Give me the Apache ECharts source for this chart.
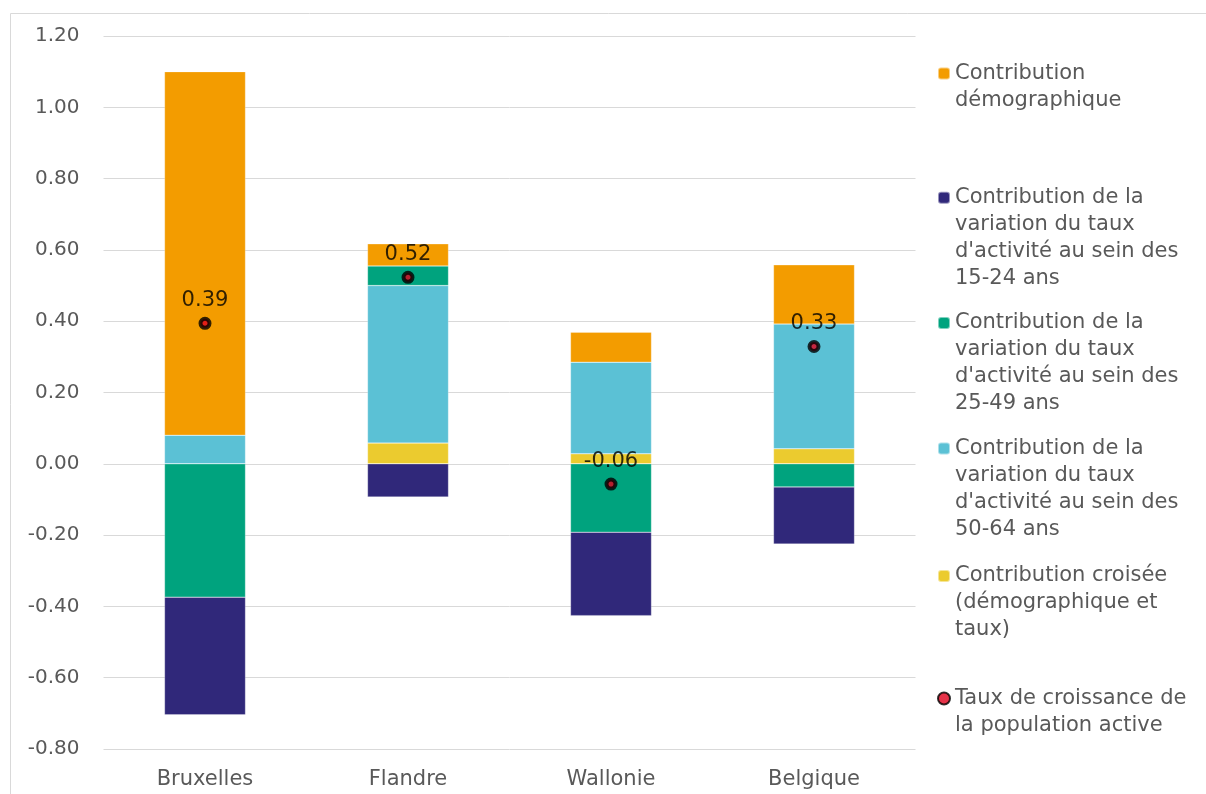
<!DOCTYPE html>
<html><head><meta charset="utf-8">
<script src="https://cdn.jsdelivr.net/npm/echarts@6/dist/echarts.min.js"></script>
<style>html,body{margin:0;padding:0;background:#fff}#c{width:1206px;height:794px}</style>
</head><body><div id="c"></div>
<script>
const categories = ['Bruxelles', 'Flandre', 'Wallonie', 'Belgique'];
const demographique = [1.02, 0.062, 0.084, 0.166];
const taux1524 = [-0.33, -0.093, -0.234, -0.16];
const taux2549 = [-0.374, 0.055, -0.192, -0.065];
const taux5064 = [0.08, 0.442, 0.257, 0.35];
const croisee = [0, 0.058, 0.028, 0.042];
const croissance = [0.394, 0.523, -0.057, 0.329];
const yTicks = [-0.8, -0.6, -0.4, -0.2, 0, 0.2, 0.4, 0.6, 0.8, 1.0, 1.2];

const names = {
  demo: 'Contribution démographique',
  t1524: "Contribution de la variation du taux d'activité au sein des 15-24 ans",
  t2549: "Contribution de la variation du taux d'activité au sein des 25-49 ans",
  t5064: "Contribution de la variation du taux d'activité au sein des 50-64 ans",
  crois: 'Contribution croisée (démographique et taux)',
  rate: 'Taux de croissance de la population active'
};
const wrapped = {};
wrapped[names.demo] = 'Contribution\ndémographique';
wrapped[names.t1524] = "Contribution de la\nvariation du taux\nd'activité au sein des\n15-24 ans";
wrapped[names.t2549] = "Contribution de la\nvariation du taux\nd'activité au sein des\n25-49 ans";
wrapped[names.t5064] = "Contribution de la\nvariation du taux\nd'activité au sein des\n50-64 ans";
wrapped[names.crois] = 'Contribution croisée\n(démographique et\ntaux)';
wrapped[names.rate] = 'Taux de croissance de\nla population active';

const colors = {demo:'#F39C00', t1524:'#30287A', t2549:'#00A37E', t5064:'#5BC1D5', crois:'#EBCB2F'};
const FONT = 'DejaVu Sans';
const LH = 27;
const legendTops = [73.5, 197.7, 323, 448.5, 576, 698.5];
const legendOrder = [names.demo, names.t1524, names.t2549, names.t5064, names.crois, names.rate];

function mkLegend(name, iconCenter) {
  const n = wrapped[name].split('\n').length;
  const H = (2 * n - 1) * LH;
  return {
    data: [name], orient: 'vertical', left: 937, top: iconCenter - H / 2, padding: 0,
    itemWidth: 12, itemHeight: 12, itemGap: 0, selectedMode: false,
    formatter: nm => '\n'.repeat(n - 1) + wrapped[nm],
    textStyle: {fontFamily: FONT, fontSize: 21, color: '#595959', lineHeight: LH}
  };
}

function bar(name, key, data) {
  return {name: name, type: 'bar', stack: 'tot', data: data, barWidth: 81,
    itemStyle: {color: colors[key], borderColor: 'rgba(255,255,255,0.5)', borderWidth: 0.5}};
}

const chart = echarts.init(document.getElementById('c'));
chart.setOption({
  animation: false,
  graphic: [{type: 'rect', shape: {x: 10.5, y: 13.5, width: 1400, height: 1000}, style: {fill: 'none', stroke: '#d9d9d9', lineWidth: 1}, silent: true}],
  grid: {left: 103.5, right: 1206 - 915.5, top: 36, bottom: 45, containLabel: false},
  legend: legendOrder.map((nm, i) => mkLegend(nm, legendTops[i])),
  xAxis: {type: 'category', data: categories, axisLine: {show: false}, axisTick: {show: false},
    axisLabel: {fontFamily: FONT, fontSize: 21, color: '#595959', margin: 20}},
  yAxis: {type: 'value', min: yTicks[0], max: yTicks[yTicks.length - 1], interval: 0.2,
    axisLine: {show: false}, axisTick: {show: false},
    axisLabel: {fontFamily: FONT, fontSize: 20, color: '#595959', margin: 24, formatter: v => v.toFixed(2)},
    splitLine: {lineStyle: {color: '#d9d9d9', width: 1}}},
  series: [
    bar(names.crois, 'crois', croisee),
    bar(names.t5064, 't5064', taux5064),
    bar(names.t2549, 't2549', taux2549),
    bar(names.t1524, 't1524', taux1524),
    bar(names.demo, 'demo', demographique),
    {name: names.rate, type: 'scatter', data: croissance, symbol: 'circle', symbolSize: 9, z: 5,
      itemStyle: {color: '#E0001B', borderColor: '#000', borderWidth: 4},
      label: {show: true, position: 'top', distance: 6, color: '#000', fontFamily: FONT, fontSize: 21,
        formatter: p => p.value.toFixed(2)}}
  ]
});
</script></body></html>
